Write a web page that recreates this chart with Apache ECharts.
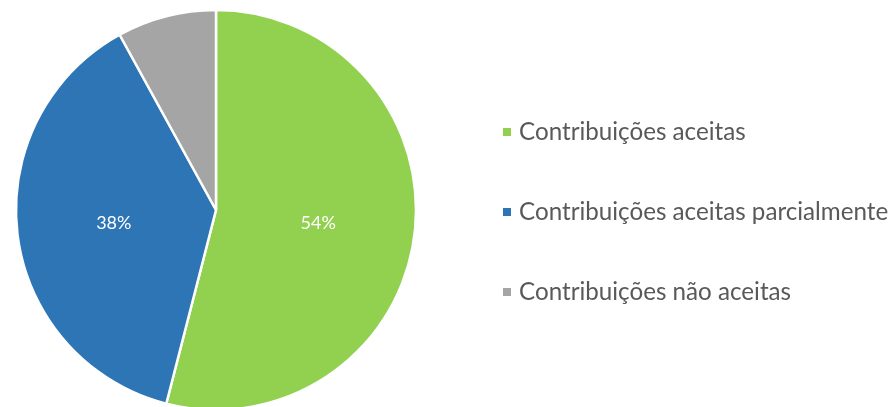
<!DOCTYPE html>
<html><head><meta charset="utf-8">
<script src="https://cdn.jsdelivr.net/npm/echarts@6/dist/echarts.min.js"></script>
<style>html,body{margin:0;padding:0;background:#fff}#c{width:894px;height:407px}</style>
</head><body><div id="c"></div>
<script>
const categories = ['Contribuições aceitas', 'Contribuições aceitas parcialmente', 'Contribuições não aceitas'];
const values = [54, 38, 8];
const colors = ['#92D050', '#2E75B6', '#A5A5A5'];
const showLabel = [true, true, false];

const chart = echarts.init(document.getElementById('c'));
chart.setOption({
  animation: false,
  legend: {
    orient: 'vertical',
    left: 496,
    top: 115,
    itemWidth: 10,
    itemHeight: 10,
    itemGap: 56,
    icon: 'rect',
    textStyle: { fontFamily: 'Lato', fontSize: 24.2, lineHeight: 24, color: '#595959', padding: [0,0,0,2] },
    data: categories
  },
  series: [{
    type: 'pie',
    center: [216, 210],
    radius: [0, 200],
    startAngle: 90,
    clockwise: true,
    itemStyle: { borderColor: '#fff', borderWidth: 2.5 },
    label: {
      position: 'inside',
      formatter: '{d}%',
      color: '#fff',
      fontFamily: 'Lato',
      fontSize: 18,
      padding: [4, 0, 0, 0]
    },
    labelLine: { show: false },
    emphasis: { disabled: true },
    data: categories.map((n, i) => ({
      name: n, value: values[i],
      itemStyle: { color: colors[i] },
      label: { show: showLabel[i] }
    }))
  }]
});
</script></body></html>
